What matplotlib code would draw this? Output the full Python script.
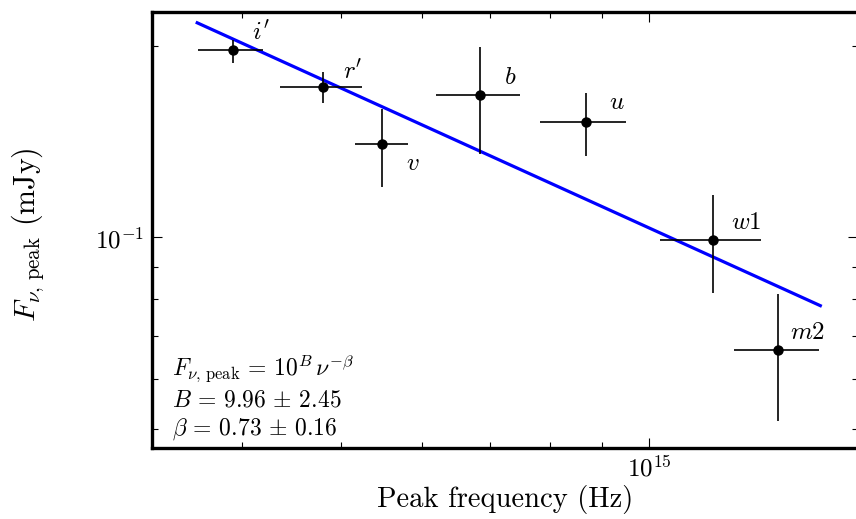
import numpy as np
import matplotlib
matplotlib.use("Agg")
import matplotlib.pyplot as plt
from matplotlib.ticker import NullFormatter

plt.rcParams['font.family'] = 'serif'
plt.rcParams['font.serif'] = ['cmr10']
plt.rcParams['mathtext.fontset'] = 'cm'
plt.rcParams['axes.formatter.use_mathtext'] = True

# Data
bands = ["$i'$", "$r'$", "$v$", "$b$", "$u$", "$w1$", "$m2$"]
nu = np.array([3.92e14, 4.80e14, 5.49e14, 6.84e14, 8.67e14, 1.155e15, 1.337e15])
nu_lo = np.array([3.63e14, 4.36e14, 5.16e14, 6.19e14, 7.83e14, 1.024e15, 1.211e15])
nu_hi = np.array([4.20e14, 5.24e14, 5.82e14, 7.48e14, 9.50e14, 1.286e15, 1.464e15])
flux = np.array([0.197, 0.1722, 0.1403, 0.1672, 0.1518, 0.0992, 0.0665])
flux_lo = np.array([0.188, 0.1628, 0.1199, 0.1353, 0.1345, 0.0818, 0.0514])
flux_hi = np.array([0.204, 0.1819, 0.1593, 0.1992, 0.1688, 0.1168, 0.0816])

fit_B = 9.965
fit_beta = 0.73
fit_nu_range = [3.62e14, 1.47e15]

label_offsets = [(28, 17), (30, 15), (30, -20), (30, 17), (31, 19), (33, 17), (29, 17)]

fig = plt.figure(figsize=(8.56, 5.19), dpi=100)
ax = fig.add_axes([152/856, 1-448/519, 706/856, 436/519])
ax.set_xscale('log')
ax.set_yscale('log')

nu_fit = np.logspace(np.log10(fit_nu_range[0]), np.log10(fit_nu_range[1]), 50)
ax.plot(nu_fit, 10**fit_B * nu_fit**(-fit_beta), color='#0000ff', lw=2.3, zorder=2)

ax.errorbar(nu, flux, xerr=[nu - nu_lo, nu_hi - nu], yerr=[flux - flux_lo, flux_hi - flux],
            fmt='o', color='black', ms=6.5, elinewidth=1.2, capsize=0, zorder=3)

for lab, x, y, off in zip(bands, nu, flux, label_offsets):
    ax.annotate(lab, (x, y), xytext=off, textcoords='offset pixels',
                ha='center', va='center', fontsize=18)

ax.set_xlim(3.27e14, 1.60e15)
ax.set_ylim(0.0467, 0.226)

ax.xaxis.set_minor_formatter(NullFormatter())
ax.yaxis.set_minor_formatter(NullFormatter())
ax.tick_params(which='both', direction='in', top=True, right=True, width=0.8)
ax.tick_params(which='major', length=7, labelsize=18, pad=6)
ax.tick_params(which='minor', length=4)
for s in ax.spines.values():
    s.set_linewidth(2.4)

ax.set_xlabel('Peak frequency (Hz)', fontsize=20.6)
ax.xaxis.set_label_coords(0.5007, -0.119)
ax.xaxis.label.set_va('center')
ax.set_ylabel(r'$F_{\nu,\,\mathrm{peak}}$ (mJy)', fontsize=21.5)
ax.yaxis.set_label_coords(-0.1756, 0.4885)
ax.yaxis.label.set_va('center')

ax.text(0.0279, 0.165, r'$F_{\nu,\,\mathrm{peak}} \,=\, 10^{B}\,\nu^{-\beta}$', transform=ax.transAxes,
        fontsize=17, va='baseline', ha='left')
ax.text(0.0279, 0.0947, r'$B \,=\, 9.96 \,\pm\, 2.45$', transform=ax.transAxes,
        fontsize=17, va='baseline', ha='left')
ax.text(0.0279, 0.0314, r'$\beta \,=\, 0.73 \,\pm\, 0.16$', transform=ax.transAxes,
        fontsize=17, va='baseline', ha='left')

fig.savefig('out.png', dpi=100)
